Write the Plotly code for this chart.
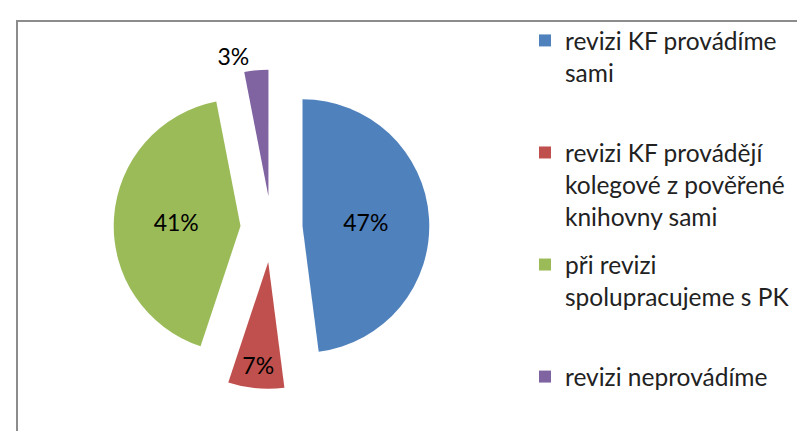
import plotly.graph_objects as go

# data
labels = [
    "revizi KF provádíme sami",
    "revizi KF provádějí kolegové z pověřené knihovny sami",
    "při revizi spolupracujeme s PK",
    "revizi neprovádíme",
]
legend_text = [
    "revizi KF provádíme<br>sami<br> ",
    "revizi KF provádějí<br>kolegové z pověřené<br>knihovny sami",
    "při revizi<br>spolupracujeme s PK<br> ",
    "revizi neprovádíme",
]
values = [47, 7, 41, 3]
colors = ["#4F81BD", "#C0504D", "#9BBB59", "#8064A2"]
pulls = [0.245, 0.27, 0.245, 0.25]

W, H = 805, 431

fig = go.Figure()

fig.add_trace(go.Pie(
    labels=labels,
    values=values,
    sort=False,
    direction="clockwise",
    rotation=0,
    pull=pulls,
    marker=dict(colors=colors),
    texttemplate="%{value}%",
    textposition=["inside", "inside", "inside", "outside"],
    insidetextorientation="horizontal",
    textfont=dict(family="Lato", size=23, color="black"),
    domain=dict(x=[102.5 / W, 424.5 / W], y=[50 / H, 372 / H]),
    showlegend=False,
    hoverinfo="label+percent",
))

# legend entries (one per slice, so the gaps can be set)
for i in range(len(labels)):
    fig.add_trace(go.Scatter(
        x=[None], y=[None],
        mode="markers",
        name=legend_text[i],
        legendgroup=str(i),
        marker=dict(symbol="square", size=12, color=colors[i]),
    ))

fig.update_layout(
    width=W, height=H,
    margin=dict(l=0, r=0, t=0, b=0, autoexpand=False),
    paper_bgcolor="white",
    plot_bgcolor="white",
    xaxis=dict(visible=False),
    yaxis=dict(visible=False),
    legend=dict(
        x=517 / W, y=1 - 10 / H,
        xanchor="left", yanchor="top",
        valign="top",
        tracegroupgap=13.5,
        font=dict(family="Lato", size=24.5, color="#222222"),
        bgcolor="rgba(0,0,0,0)",
    ),
    shapes=[dict(
        type="rect", xref="paper", yref="paper",
        x0=9 / W, x1=1.1, y0=-0.1, y1=1 - 13 / H,
        line=dict(color="#8c8c8c", width=2),
    )],
)

fig.write_html("out.html")
